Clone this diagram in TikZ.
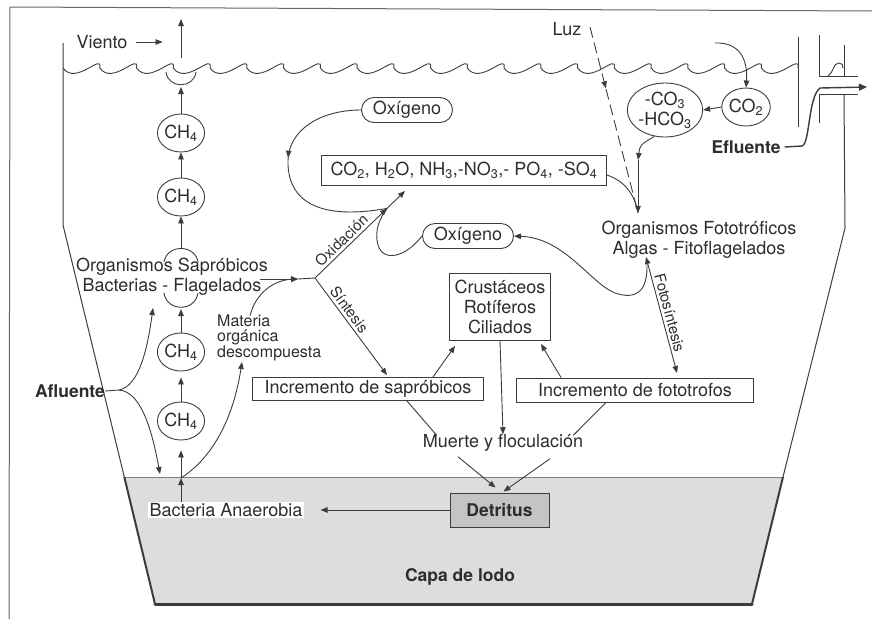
\documentclass[tikz,border=0pt]{standalone}
\usepackage{fontspec}
\setmainfont{TeX Gyre Heros}
\usetikzlibrary{arrows.meta,shapes.geometric,decorations.markings,calc}
\definecolor{ink}{RGB}{45,45,45}
\definecolor{lineink}{RGB}{60,60,60}
\definecolor{mud}{RGB}{221,221,221}
\definecolor{detfill}{RGB}{196,196,196}

\begin{document}
\begin{tikzpicture}[x=1pt,y=-1pt,
  >={Triangle[length=7pt,width=5.5pt]},
  every node/.style={text=ink, inner sep=0pt},
  txt/.style={font=\fontsize{18}{20}\selectfont},
  btxt/.style={font=\bfseries\fontsize{17.5}{20}\selectfont},
  lbl/.style={font=\fontsize{15}{17}\selectfont, inner sep=2.5pt},
  conn/.style={draw=lineink, line width=0.9pt},
  arr/.style={conn, ->},
  wall/.style={draw=lineink, line width=1pt},
  gas/.style={txt, ellipse, draw=lineink, line width=0.9pt, minimum width=44pt, minimum height=38pt},
  lbox/.style={txt, draw=lineink, line width=0.9pt, rectangle},
  pill/.style={txt, draw=lineink, line width=0.9pt, rounded corners=12.5pt, minimum width=91pt, minimum height=25pt},
  midarrow/.style={postaction={decorate}, decoration={markings, mark=at position #1 with {\arrow{>}}}},
]
\useasboundingbox (0,0) rectangle (872,619);

% page frame
\draw[draw=gray!80!black, line width=1pt] (9,619) -- (10,7) -- (872,11);

% sludge layer
\fill[mud] (124.3,477) -- (783,477) -- (752,604) -- (155,604) -- cycle;
\draw[draw=gray, line width=0.6pt] (124.3,477) -- (783,477);

% pond walls
\draw[wall] (63,43) -- (63,225) -- (124.3,477);
\draw[draw=lineink, line width=2pt, line join=round] (124.3,477) -- (155,604);
\draw[draw=lineink, line width=3pt, line cap=round] (155,604) -- (752,604);
\draw[draw=lineink, line width=2pt] (752,604) -- (783,477);
\draw[wall] (783,477) -- (845,228) -- (844,94);

% water surface
\foreach \i in {0,...,19}{
  \pgfmathsetmacro\xa{63+36.75*\i}
  \draw[conn] (\xa,68) .. controls (\xa+13,86) and (\xa+40,52) .. (\xa+36.75,68);
}

% outlet structure
\draw[wall] (798,37) -- (798,127);
\draw[wall] (819,35) -- (819,76) -- (858,76);
\draw[wall] (844,45) -- (844,76);
\draw[wall] (819,123) -- (819,94) -- (858,94);
\draw[conn] (828,76) .. controls (834,72) and (833,63) .. (839,63) .. controls (842,63) and (843,65) .. (843,68);

% ---------- nodes ----------
\node[txt] (viento) at (102,42) {Viento};
\node[txt] (luz) at (567,29) {Luz};
\node[gas] (m1) at (181,133) {CH\textsubscript{4}};
\node[gas] (m2) at (181,197) {CH\textsubscript{4}};
\node[gas] (m3) at (181,352) {CH\textsubscript{4}};
\node[gas] (m4) at (181,421) {CH\textsubscript{4}};
\node[txt, align=center] (sap) at (172,277) {Organismos Sapróbicos\\Bacterias - Flagelados};
\node[font=\fontsize{16}{15}\selectfont, align=left, anchor=west] (mat) at (217,338) {Materia\\orgánica\\descompuesta};
\node[btxt] (afl) at (70,391) {Afluente};
\node[pill] (ox1) at (407,110) {Oxígeno};
\node[pill] (ox2) at (468,236) {Oxígeno};
\node[lbox, minimum width=285pt, minimum height=30pt] (form) at (464,170)
  {CO\textsubscript{2}, H\textsubscript{2}O, NH\textsubscript{3},-NO\textsubscript{3},- PO\textsubscript{4}, -SO\textsubscript{4}};
\node[gas] (co2) at (746,107) {CO\textsubscript{2}};
\node[txt, ellipse, draw=lineink, line width=0.9pt, align=center, minimum width=75pt, minimum height=54pt] (carb) at (665,110) {-CO\textsubscript{3}\\-HCO\textsubscript{3}};
\node[btxt] (efl) at (746,147) {Efluente};
\node[txt, align=center] (foto) at (699,240) {Organismos Fototróficos\\Algas - Fitoflagelados};
\node[lbox, align=center, minimum width=101pt, minimum height=67pt] (crus) at (500,307) {Crustáceos\\Rotíferos\\Ciliados};
\node[lbox, minimum width=231pt, minimum height=23pt] (incs) at (368,389) {Incremento de sapróbicos};
\node[lbox, minimum width=237pt, minimum height=24pt] (incf) at (635,390) {Incremento de fototrofos};
\node[txt] (muerte) at (503,443) {Muerte y floculación};
\node[btxt, draw=lineink, fill=detfill, line width=0.9pt, minimum width=99pt, minimum height=34pt] (det) at (499.5,510) {Detritus};
\node[txt, fill=white, inner xsep=2pt, inner ysep=1.5pt] (bact) at (226,510) {Bacteria Anaerobia};
\node[btxt] (lodo) at (460,577) {Capa de lodo};

% ---------- coordinates ----------
\coordinate (surf) at (181,58);
\coordinate (sky) at (181,19);
\coordinate (bowl) at (181,87);
\coordinate (bubtop) at (181,248);
\coordinate (bubbot) at (181,309);
\coordinate (mudtop) at (181,478);
\coordinate (afj) at (119,390);
\coordinate (aflup) at (153,308);
\coordinate (afldn) at (160,474);
\coordinate (mattip) at (242,362);
\coordinate (sapar) at (298,279);
\coordinate (J) at (315,278);
\coordinate (oxend) at (405,191);
\coordinate (oxj) at ($(J)!0.8!(oxend)$);
\coordinate (sinend) at (387,375);
\coordinate (fstop) at (646,257);
\coordinate (fsbot) at (677,373);
\coordinate (luzA) at (590,27);
\coordinate (fototop) at (638,213);
\coordinate (cmid) at (638,160);
\coordinate (airco2) at (715,43);
\coordinate (pipeout) at (867,87);

% ---------- methane column ----------
\draw[conn] (166,72) .. controls (168,89) and (194,89) .. (196,72);
\draw[arr] (surf) -- (sky);
\draw[arr] (m1.north) -- (bowl);
\draw[arr] (m2.north) -- (m1.south);
\draw[conn] (164,262) .. controls (167,244) and (195,244) .. (198,262);
\draw[conn] (164,293) .. controls (167,312) and (195,312) .. (198,293);
\draw[arr] (bubtop) -- (m2.south);
\draw[arr] (m3.north) -- (bubbot);
\draw[arr, shorten >=6pt] (m4.north) -- (m3.south);
\draw[arr, shorten >=10pt] (mudtop) -- (m4.south);
\draw[arr] (bact.north -| mudtop) -- (mudtop);

% wind
\draw[arr] ([xshift=8pt]viento.east) -- ++(27,0);

% inflow
\draw[conn] (afl.east) -- (afj);
\draw[arr] (afj) .. controls (140,386) and (148,345) .. (aflup);
\draw[arr] (afj) .. controls (140,392) and (151,425) .. (afldn);

% decomposed organic matter
\draw[arr] (mudtop) .. controls (212,458) and (233,420) .. (mattip);
\draw[arr] ($(mat.north west)+(33,1)$) .. controls (256,292) and (275,280) .. (sapar);
\draw[arr] ($(sap.east)+(-8,2)$) -- (sapar);
\draw[conn] (sapar) -- (J);

% oxidation and synthesis
\draw[arr, midarrow=0.8] (J) -- node[lbl, sloped, above, pos=0.36] {Oxidación} (oxend);
\draw[arr] (J) -- node[lbl, sloped, above, pos=0.38] {Síntesis} (sinend);
\draw[conn, midarrow=0.42] (ox1.west) .. controls (320,110) and (289,130) .. (288,160)
  .. controls (287,195) and (310,222) .. (oxj);
\draw[conn] (ox2.west) .. controls (405,258) and (383,262) .. (378,245)
  .. controls (374,230) and (380,218) .. (oxj);

% light, carbonates, phototrophs
\draw[conn, dash pattern=on 11pt off 5pt, midarrow=0.33] (luzA) -- (fototop);
\draw[arr] (airco2) .. controls (740,42) and (748,60) .. (co2.north);
\draw[arr] (co2.west) -- (carb.east);
\draw[arr] (carb.-112) .. controls (640,145) .. (cmid);
\draw[arr] (cmid) -- (fototop);
\draw[conn] ([yshift=-5pt]form.east) .. controls (625,181) and (635,195) .. (fototop);

% photosynthesis
\draw[conn, <->] (fstop) -- node[lbl, sloped, above, pos=0.5] {Fotosíntesis} (fsbot);
\draw[arr] ($(fstop)+(1,6)$) .. controls (648,292) and (636,300) .. (615,293)
  .. controls (590,283) and (565,238) .. (ox2.east);

% consumers, death, detritus
\draw[arr] ($(incs.north east)+(-51,0)$) -- ($(crus.south west)+(6,5)$);
\draw[arr] ($(incf.north west)+(45,0)$) -- ($(crus.south east)+(-10,3)$);
\draw[arr] (crus.south) -- (muerte.north);
\draw[conn] ($(incs.south east)+(-77,0)$) -- ($(muerte.north west)+(14,1)$);
\draw[conn] ($(incf.south west)+(90,0)$) -- ($(muerte.north east)+(-10,1)$);
\draw[arr] ($(muerte.south)+(-45,5)$) -- ($(det.north)+(-4,-5)$);
\draw[arr] ($(muerte.south)+(47,7)$) -- ($(det.north)+(4,-1)$);
\draw[arr, shorten >=16pt] (det.west) -- (bact.east);

% effluent
\draw[draw=lineink, line width=1.4pt, -{Triangle[length=8pt,width=7pt]}]
  ([xshift=4pt]efl.east) -- (802,146) .. controls (810,144) and (808,97) .. (820,88) -- (pipeout);
\end{tikzpicture}
\end{document}
